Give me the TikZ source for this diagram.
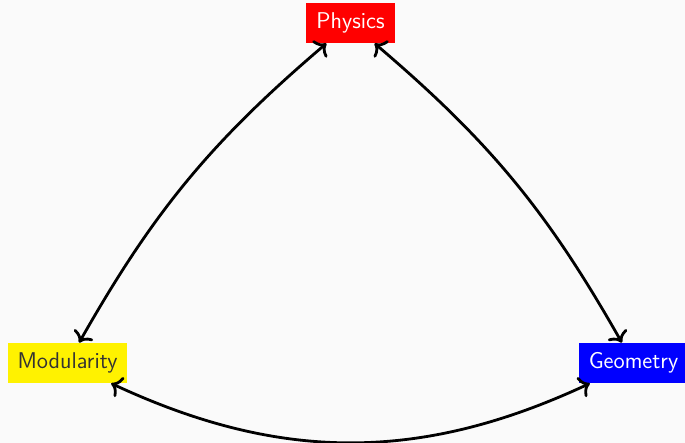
\documentclass[tikz,border=0pt]{standalone}
\usepackage{tikz}
\usetikzlibrary{arrows.meta}
\begin{document}
\begin{tikzpicture}[x=0.5pt,y=-0.5pt,
  box/.style={inner xsep=5pt, minimum height=20pt, font=\sffamily\fontsize{11.4}{13}\selectfont},
  tipstyle/.tip={Computer Modern Rightarrow[length=5pt,width=11pt]},
  arr/.style={tipstyle-tipstyle, line width=1.4pt, black}]
\definecolor{bg}{HTML}{FAFAFA}
\definecolor{txt}{HTML}{333333}
\fill[bg] (0,0) rectangle (685,443);
\useasboundingbox (0,0) rectangle (685,443);
\node[box, fill=red, text=white] (phy) at (350.5,23) {Physics};
\node[box, fill=yellow, text=txt] (mod) at (67.5,363) {Modularity};
\node[box, fill=blue, text=white] (geo) at (633.5,363) {Geometry};
\draw[arr] (phy) to[bend right=10] (mod);
\draw[arr] (phy) to[bend left=10] (geo);
\draw[arr] (mod) to[bend right=25] (geo);
\end{tikzpicture}
\end{document}
